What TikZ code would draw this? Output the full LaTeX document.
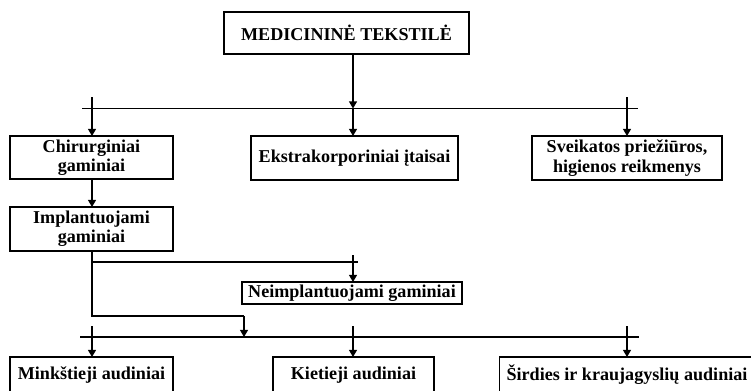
\documentclass[tikz,border=0pt]{standalone}
\usepackage{fontspec}
\setmainfont{Liberation Serif}
\usetikzlibrary{arrows.meta}
\begin{document}
\begin{tikzpicture}[
        x=0.02cm, y=-0.02cm,
        line width=0.6pt,
        arr/.style={-{Triangle[length=4pt,width=4.5pt]}}
    ]
    %\usetikzlibrary{arrows.meta}

    \tikzstyle{box} = [
        draw,
        align = center,
        inner sep = 0pt,
        outer sep = 0pt,
        font = \fontsize{10.3}{11}\selectfont\bfseries
    ]

    \useasboundingbox (0,0) rectangle (751,390);
    \clip (0,0) rectangle (751,390);

    \node [box, minimum width=4.9cm, minimum height=0.84cm] (medtex) at (346.5,33) {MEDICININĖ TEKSTILĖ};
    \node [box, minimum width=3.26cm, minimum height=0.86cm] (chir) at (91.5,157.5) {Chirurginiai\\gaminiai};
    \node [box, minimum width=4.14cm, minimum height=0.88cm] (ekstra) at (354.5,158) {Ekstrakorporiniai įtaisai};
    \node [box, minimum width=3.8cm, minimum height=0.88cm] (sveik) at (627,158) {Sveikatos priežiūros,\\higienos reikmenys};
    \node [box, minimum width=3.26cm, minimum height=0.88cm] (impl) at (91.5,229) {Implantuojami\\gaminiai};
    \node [box, minimum width=4.4cm, minimum height=0.44cm] (neimpl) at (352,293) {Neimplantuojami gaminiai};
    \node [box, minimum width=3.26cm, minimum height=0.72cm] (mink) at (91.5,375) {Minkštieji audiniai};
    \node [box, minimum width=3.22cm, minimum height=0.72cm] (kiet) at (353.5,375) {Kietieji audiniai};
    \node [box, minimum width=5.12cm, minimum height=0.72cm] (sird) at (627,375) {Širdies ir kraujagyslių audiniai};

    \coordinate (busA) at (82,108.5);
    \coordinate (busB) at (638,108.5);
    \coordinate (busM) at (353,108.5);
    \coordinate (tickA) at (92,97);
    \coordinate (tickB) at (627,97);

    \coordinate (split) at (92,262);
    \coordinate (splitE) at (358,262);
    \coordinate (tickN) at (353,255);
    \coordinate (bend) at (92,316);
    \coordinate (bendE) at (244,316);

    \coordinate (busC) at (80,337);
    \coordinate (busD) at (639,337);
    \coordinate (tickC) at (92,326);
    \coordinate (tickD) at (353,326);
    \coordinate (tickE) at (627,326);

    \draw (busA) -- (busB);
    \draw [arr] (medtex.south -| busM) -- (busM);
    \draw [arr] (busM) -- (busM |- ekstra.north);
    \draw [arr] (tickA) -- (tickA |- chir.north);
    \draw [arr] (tickB) -- (tickB |- sveik.north);
    \draw [arr] (chir.south -| tickA) -- (impl.north -| tickA);

    \draw (impl.south -| split) -- (bend) -- (bendE);
    \draw [arr] (bendE) -- (bendE |- busC);
    \draw (split) -- (splitE);
    \draw [arr] (tickN) -- (tickN |- neimpl.north);

    \draw (busC) -- (busD);
    \draw [arr] (tickC) -- (tickC |- mink.north);
    \draw [arr] (tickD) -- (tickD |- kiet.north);
    \draw [arr] (tickE) -- (tickE |- sird.north);
\end{tikzpicture}
\end{document}
